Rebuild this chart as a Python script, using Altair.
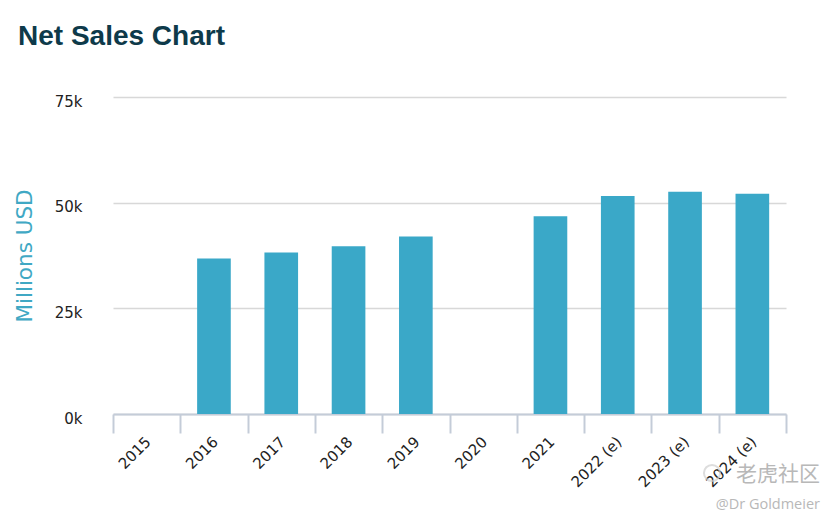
import altair as alt
import pandas as pd

years = ["2015", "2016", "2017", "2018", "2019", "2020", "2021", "2022 (e)", "2023 (e)", "2024 (e)"]
sales = [None, 36800, 38200, 39700, 42000, None, 46800, 51600, 52600, 52100]

df = pd.DataFrame({"year": years, "sales": sales})

FONT = "DejaVu Sans"

bars = alt.Chart(df).mark_bar(color="#3aa8c8", width={"band": 0.5}).encode(
    x=alt.X("year:N", sort=years, title=None,
            scale=alt.Scale(paddingInner=0, paddingOuter=0),
            axis=alt.Axis(labelAngle=-45, tickBand="extent", tickSize=19,
                          tickColor="#c4ccd8", domainColor="#c4ccd8", domainWidth=2, tickWidth=2,
                          labelFont=FONT, labelFontSize=15, labelColor="#222222",
                          labelPadding=1, labelOffset=-4, grid=False)),
    y=alt.Y("sales:Q", title="Millions USD",
            scale=alt.Scale(domain=[0, 75000], nice=False),
            axis=alt.Axis(values=[0, 25000, 50000, 75000],
                          labelExpr="datum.value / 1000 + 'k'",
                          domain=False, ticks=False, grid=True, gridColor="#d8d8d8", gridWidth=1.5,
                          labelFont=FONT, labelFontSize=15, labelColor="#222222", labelPadding=31,
                          labelOffset=4,
                          titleFont=FONT, titleFontSize=21.5, titleFontWeight="normal",
                          titleColor="#40a8c4", titlePadding=18)),
)

logo = alt.Chart(pd.DataFrame({"k": [1]})).mark_point(
    shape="circle", filled=False, size=260, strokeWidth=2, color="#cfcfcf"
).encode(x=alt.value(599), y=alt.value(376))

wm1 = alt.Chart(pd.DataFrame({"t": ["老虎社区"]})).mark_text(
    align="right", baseline="middle", font="Noto Sans CJK SC", fontSize=21, color="#b8b8b8"
).encode(text="t:N", x=alt.value(707), y=alt.value(378))

wm2 = alt.Chart(pd.DataFrame({"t": ["@Dr Goldmeier"]})).mark_text(
    align="right", baseline="middle", font="Open Sans", fontSize=14.5, color="#b8b8b8"
).encode(text="t:N", x=alt.value(707), y=alt.value(408))

chart = alt.layer(bars, logo, wm1, wm2).properties(
    width=673, height=317,
    autosize=alt.AutoSizeParams(type="none"),
    padding={"left": 105, "top": 89, "right": 44, "bottom": 110},
    title=alt.TitleParams("Net Sales Chart", anchor="start", frame="group", dx=-95,
                          offset=43, font="Liberation Sans", fontSize=28, fontWeight="bold",
                          color="#0e3a4a"),
).configure_view(stroke=None)

chart.save("out.html", embed_options={"renderer": "svg", "actions": False})
